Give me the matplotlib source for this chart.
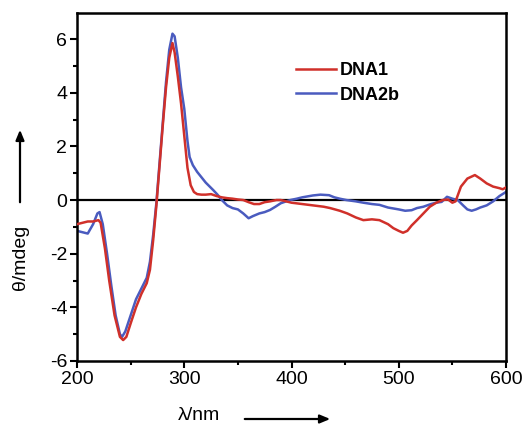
import matplotlib
matplotlib.use("Agg")
import matplotlib.pyplot as plt
from matplotlib.ticker import MultipleLocator

plt.rcParams['font.family'] = ['Liberation Sans', 'DejaVu Sans']
plt.rcParams['axes.unicode_minus'] = False

wl_dna1 = [200, 205, 210, 215, 220, 222, 226, 230, 235, 240, 243, 246, 250, 255, 260, 265, 268, 271, 274, 277,
           280, 283, 286, 289, 291, 294, 297, 300, 303, 306, 309, 312, 316, 320, 325, 330, 335, 340, 345, 350,
           355, 360, 365, 370, 375, 380, 386, 390, 395, 400, 410, 420, 430, 436, 445, 452, 460, 467, 475, 482,
           490, 495, 500, 504, 508, 512, 517, 523, 529, 535, 541, 546, 550, 553, 558, 564, 571, 576, 582, 588,
           594, 597, 600]
cd_dna1 = [-0.9, -0.85, -0.8, -0.8, -0.75, -0.85, -1.8, -3.0, -4.3, -5.1, -5.22, -5.1, -4.6, -4.0, -3.5, -3.1, -2.6, -1.5, -0.2, 1.3,
           2.8, 4.2, 5.3, 5.85, 5.5, 4.6, 3.6, 2.4, 1.2, 0.55, 0.3, 0.22, 0.2, 0.2, 0.22, 0.15, 0.1, 0.07, 0.05, 0.02,
           0.0, -0.08, -0.15, -0.15, -0.08, -0.05, 0.0, 0.0, -0.05, -0.1, -0.15, -0.2, -0.25, -0.3, -0.4, -0.5, -0.65, -0.75, -0.72, -0.75,
           -0.9, -1.05, -1.15, -1.22, -1.15, -0.95, -0.75, -0.5, -0.25, -0.1, 0.0, 0.02, -0.1, -0.05, 0.5, 0.8, 0.93, 0.8, 0.62, 0.5,
           0.44, 0.4, 0.47]

wl_dna2b = [200, 205, 210, 215, 219, 221, 224, 228, 232, 236, 240, 242, 245, 250, 255, 260, 265, 268, 271, 274,
            277, 280, 283, 286, 289, 291, 294, 297, 300, 303, 305, 308, 312, 316, 320, 327, 331, 335, 340, 345,
            350, 355, 360, 364, 370, 375, 380, 385, 390, 395, 399, 405, 410, 420, 427, 435, 440, 445, 451, 460,
            467, 475, 482, 490, 500, 506, 512, 517, 523, 530, 535, 540, 545, 550, 555, 560, 564, 568, 572, 576,
            582, 588, 594, 600]
cd_dna2b = [-1.15, -1.2, -1.25, -0.9, -0.5, -0.45, -0.9, -2.0, -3.2, -4.3, -5.0, -5.1, -4.9, -4.3, -3.7, -3.3, -2.9, -2.3, -1.3, -0.1,
            1.4, 2.9, 4.4, 5.6, 6.2, 6.1, 5.3, 4.2, 3.4, 2.2, 1.6, 1.3, 1.05, 0.85, 0.65, 0.37, 0.2, 0.0, -0.2, -0.3,
            -0.35, -0.5, -0.68, -0.6, -0.5, -0.45, -0.37, -0.25, -0.12, -0.05, 0.0, 0.05, 0.1, 0.17, 0.2, 0.18, 0.1, 0.05, 0.0, -0.05,
            -0.1, -0.15, -0.18, -0.28, -0.35, -0.4, -0.38, -0.3, -0.25, -0.15, -0.1, -0.07, 0.12, 0.05, 0.0, -0.2, -0.35, -0.4, -0.35, -0.28,
            -0.2, -0.05, 0.15, 0.3]

labels = ["DNA1", "DNA2b"]
colors = ["#d0302a", "#4a5bbf"]

fig = plt.figure(figsize=(5.24, 4.24), dpi=100)
ax = fig.add_axes([0.147, 0.1486, 0.8186, 0.8207])

ax.axhline(0, color="black", lw=1.6, zorder=1)
ax.plot(wl_dna1, cd_dna1, color=colors[0], lw=1.8, label=labels[0], zorder=3)
ax.plot(wl_dna2b, cd_dna2b, color=colors[1], lw=1.8, label=labels[1], zorder=2)

ax.set_xlim(200, 600)
ax.set_ylim(-6, 6.97)
ax.xaxis.set_major_locator(MultipleLocator(100))
ax.xaxis.set_minor_locator(MultipleLocator(50))
ax.yaxis.set_major_locator(MultipleLocator(2))
ax.yaxis.set_minor_locator(MultipleLocator(1))
ax.tick_params(which="major", direction="out", length=5, width=1.5, labelsize=14, pad=2)
ax.tick_params(which="minor", direction="out", length=3, width=1.5)
ax.tick_params(top=False, right=False)
for s in ax.spines.values():
    s.set_linewidth(1.8)

leg = ax.legend(loc="upper left", bbox_to_anchor=(0.494, 0.88), frameon=False,
                handlelength=2.2, handletextpad=0.2, labelspacing=0.43,
                prop={"size": 13, "weight": "bold"}, borderaxespad=0)

fig.text(20 / 524, 1 - 257 / 424, "θ/mdeg", rotation=90, ha="center", va="center", fontsize=14)
fig.text(199 / 524, 1 - 415 / 424, "λ/nm", ha="center", va="center", fontsize=14)
fig.add_artist(matplotlib.patches.FancyArrowPatch((20 / 524, 1 - 205 / 424), (20 / 524, 1 - 127 / 424),
                                                   transform=fig.transFigure, arrowstyle="-|>,head_length=6,head_width=2.5",
                                                   color="black", lw=1.6, mutation_scale=1))
fig.add_artist(matplotlib.patches.FancyArrowPatch((242 / 524, 1 - 419 / 424), (333 / 524, 1 - 419 / 424),
                                                   transform=fig.transFigure, arrowstyle="-|>,head_length=6,head_width=2.5",
                                                   color="black", lw=1.6, mutation_scale=1))

fig.savefig("out.png", dpi=100)
